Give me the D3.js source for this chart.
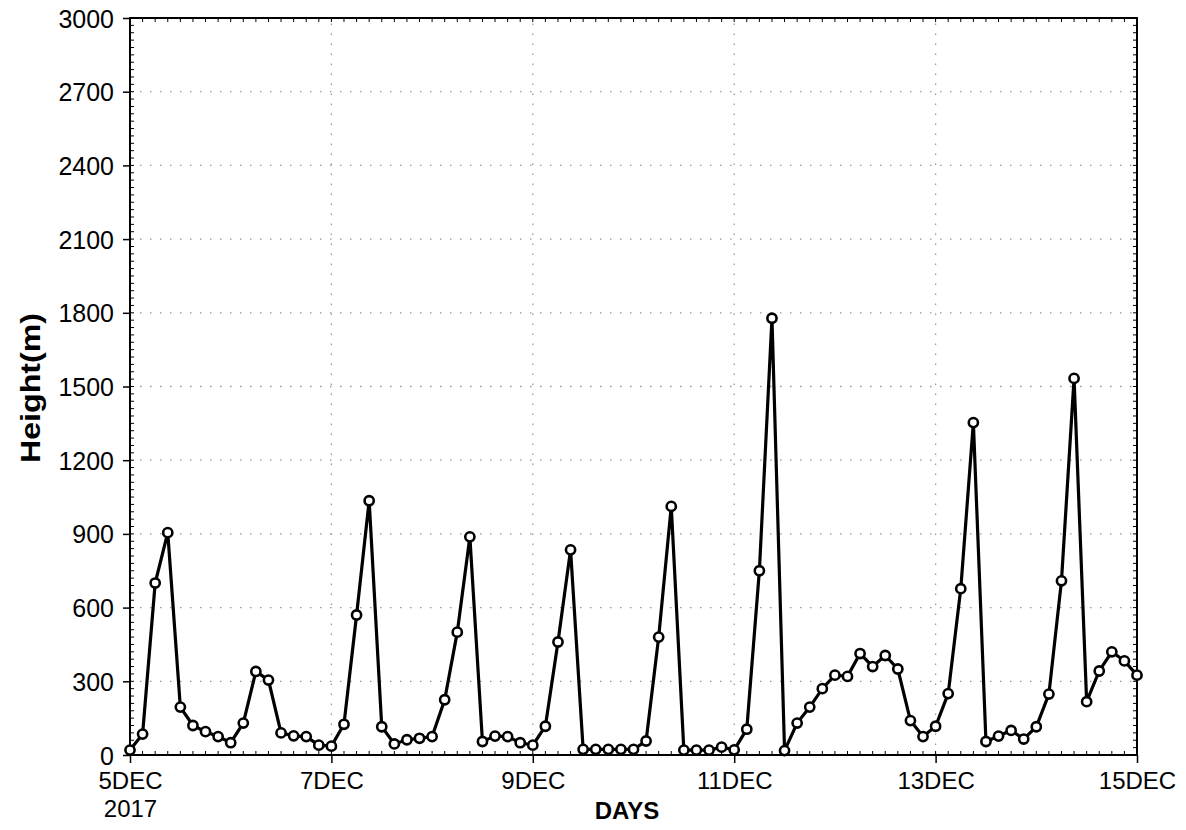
<!DOCTYPE html>
<html>
<head>
<meta charset="utf-8">
<script src="https://cdn.jsdelivr.net/npm/d3@7"></script>
<style>
  body { margin: 0; background: #fff; }
  text { font-family: "Liberation Sans", Arial, sans-serif; fill: #000; }
</style>
</head>
<body>
<div id="chart"></div>
<script>
// 3-hourly heights, 5 DEC 2017 00Z .. 15 DEC 2017 00Z
let start_time = Date.UTC(2017, 11, 5)
let step_hours = 3
let heights = [
  20, 85, 700, 905, 195, 120, 95, 75,
  50, 130, 340, 305, 90, 78, 75, 40,
  36, 125, 570, 1035, 115, 45, 62, 68,
  75, 225, 500, 888, 55, 77, 75, 50,
  40, 117, 460, 835, 23, 23, 23, 23,
  23, 57, 480, 1012, 20, 20, 20, 32,
  21, 105, 750, 1778, 18, 130, 195, 270,
  325, 320, 413, 360, 405, 350, 140, 75,
  117, 250, 677, 1353, 55, 77, 100, 65,
  115, 248, 709, 1533, 217, 342, 420, 383,
  325
]
let tick_days = [5, 7, 9, 11, 13, 15]
let tick_labels = [["5DEC", "2017"], ["7DEC"], ["9DEC"], ["11DEC"], ["13DEC"], ["15DEC"]]
let y_ticks = [0, 300, 600, 900, 1200, 1500, 1800, 2100, 2400, 2700, 3000]

let width = 1186,
    height = 830,
    margin = {top: 18, right: 49, bottom: 75, left: 130}

let data = heights.map(function(h, i) {
  return {time: new Date(start_time + i * step_hours * 3600e3), height: h}
})

let x = d3.scaleUtc()
    .domain([new Date(Date.UTC(2017, 11, 5)), new Date(Date.UTC(2017, 11, 15))])
    .range([margin.left, width - margin.right])
let y = d3.scaleLinear()
    .domain([0, 3000])
    .range([height - margin.bottom, margin.top])

let tick_dates = tick_days.map(function(d) { return new Date(Date.UTC(2017, 11, d)) })
let minor_x = d3.utcHour.every(3).range(x.domain()[0], x.domain()[1])
let minor_y = d3.range(0, 3001, 30)

let svg = d3.select("#chart").append("svg")
    .attr("width", width)
    .attr("height", height)

let x0 = margin.left, x1 = width - margin.right,
    y0 = height - margin.bottom, y1 = margin.top

// dotted grid
svg.append("g")
    .selectAll("line").data(y_ticks.slice(1, -1)).enter()
      .append("line")
        .attr("x1", x0).attr("x2", x1)
        .attr("y1", d => y(d)).attr("y2", d => y(d))
        .style("stroke", "#999")
        .style("stroke-width", 1.3)
        .style("stroke-dasharray", "1.5,8.5")
svg.append("g")
    .selectAll("line").data(tick_dates.slice(1, -1)).enter()
      .append("line")
        .attr("x1", d => x(d)).attr("x2", d => x(d))
        .attr("y1", y0).attr("y2", y1)
        .style("stroke", "#999")
        .style("stroke-width", 1.3)
        .style("stroke-dasharray", "1.5,8.5")

// minor ticks inside the frame
let minor = svg.append("g").style("stroke", "#000").style("stroke-width", 1)
minor.selectAll(".mxb").data(minor_x).enter().append("line")
    .attr("x1", d => x(d)).attr("x2", d => x(d))
    .attr("y1", y0).attr("y2", y0 - 4)
minor.selectAll(".mxt").data(minor_x).enter().append("line")
    .attr("x1", d => x(d)).attr("x2", d => x(d))
    .attr("y1", y1).attr("y2", y1 + 4)
minor.selectAll(".myl").data(minor_y).enter().append("line")
    .attr("x1", x0).attr("x2", x0 + 4)
    .attr("y1", d => y(d)).attr("y2", d => y(d))
minor.selectAll(".myr").data(minor_y).enter().append("line")
    .attr("x1", x1).attr("x2", x1 - 4)
    .attr("y1", d => y(d)).attr("y2", d => y(d))

// frame
svg.append("rect")
    .attr("x", x0).attr("y", y1)
    .attr("width", x1 - x0).attr("height", y0 - y1)
    .style("fill", "none")
    .style("stroke", "#000")
    .style("stroke-width", 2)

// axes
let x_axis = svg.append("g")
    .attr("transform", "translate(0," + y0 + ")")
    .call(d3.axisBottom(x).tickValues(tick_dates).tickSize(8).tickFormat(""))
x_axis.select(".domain").remove()
x_axis.selectAll("line").style("stroke-width", 1.5)
x_axis.selectAll(".tick").each(function(d, i) {
  let t = d3.select(this).append("text")
      .attr("y", 34)
      .attr("text-anchor", "middle")
      .style("font-size", "24px")
  tick_labels[i].forEach(function(s, j) {
    t.append("tspan").attr("x", 0).attr("dy", j ? 28 : 0).text(s)
  })
})

let y_axis = svg.append("g")
    .attr("transform", "translate(" + x0 + ",0)")
    .call(d3.axisLeft(y).tickValues(y_ticks).tickSize(7).tickPadding(9).tickFormat(d3.format("d")))
y_axis.select(".domain").remove()
y_axis.selectAll("line").style("stroke-width", 1.5)
y_axis.selectAll("text")
    .style("font-size", "25px")
    .attr("dy", "0.36em")

// axis titles
svg.append("text")
    .attr("x", 627)
    .attr("y", 819)
    .attr("text-anchor", "middle")
    .style("font-size", "24px")
    .style("font-weight", "bold")
    .text("DAYS")
svg.append("text")
    .attr("transform", "translate(40,388) rotate(-90)")
    .attr("text-anchor", "middle")
    .attr("textLength", 150)
    .attr("lengthAdjust", "spacingAndGlyphs")
    .style("font-size", "27px")
    .style("font-weight", "bold")
    .text("Height(m)")

// series
let line = d3.line()
    .x(d => x(d.time))
    .y(d => y(d.height))

svg.append("path")
    .datum(data)
    .attr("d", line)
    .style("fill", "none")
    .style("stroke", "#000")
    .style("stroke-width", 3.2)
    .style("stroke-linejoin", "miter")

svg.selectAll("circle.pt")
    .data(data).enter()
      .append("circle")
        .classed("pt", true)
        .attr("cx", d => x(d.time))
        .attr("cy", d => y(d.height))
        .attr("r", 4.6)
        .style("fill", "#fff")
        .style("stroke", "#000")
        .style("stroke-width", 2.6)
</script>
</body>
</html>
